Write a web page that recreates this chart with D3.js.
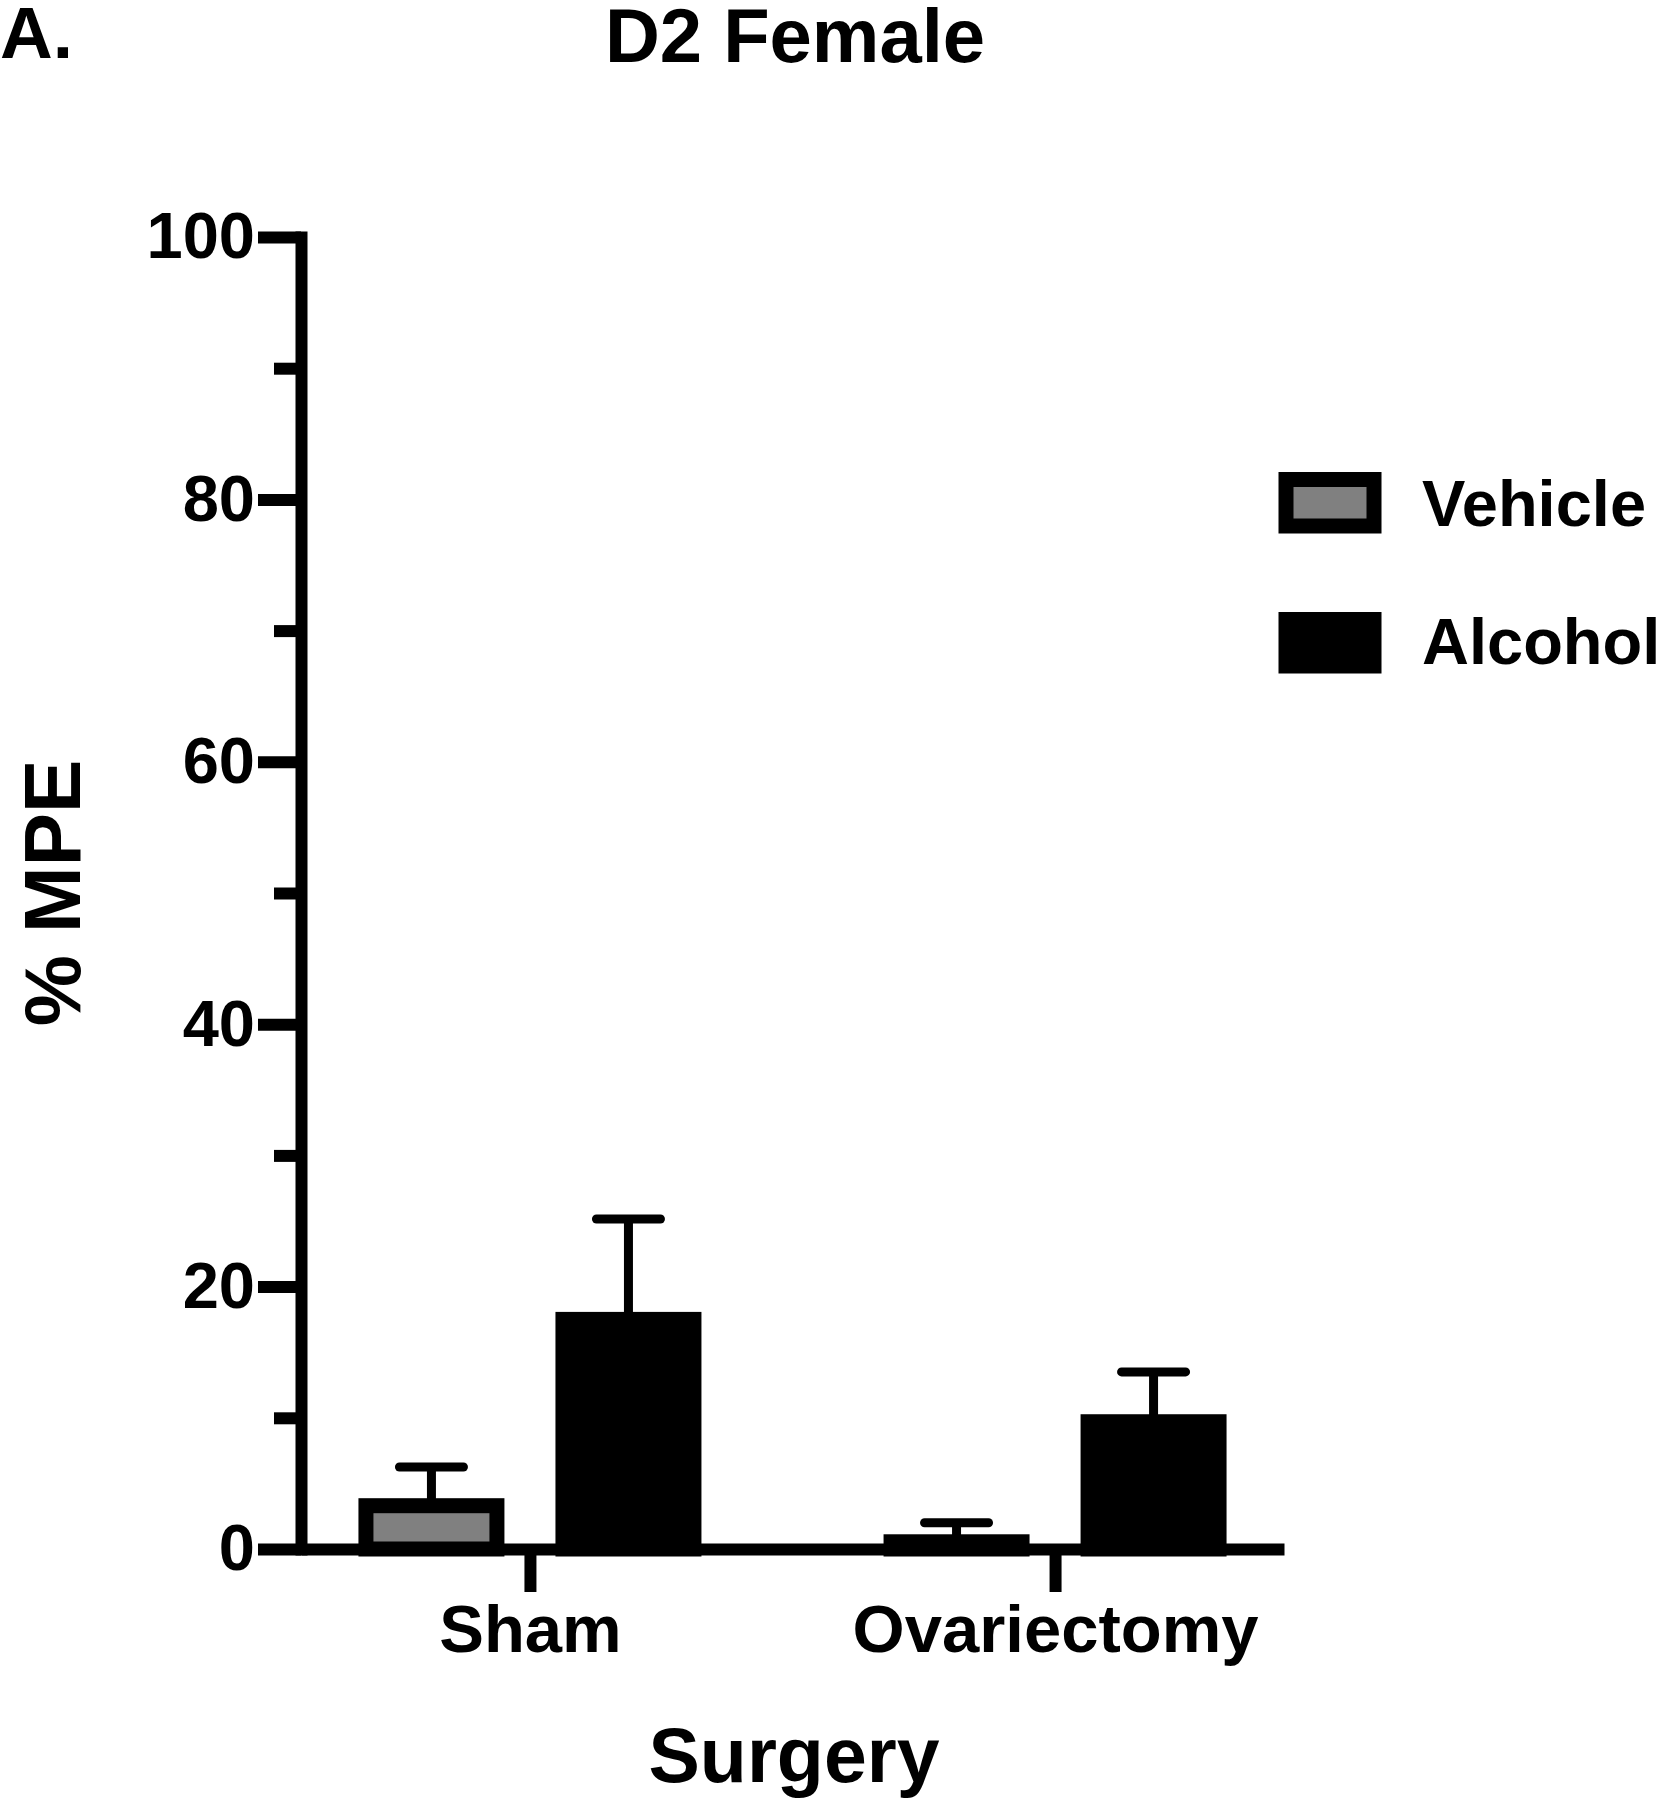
<!DOCTYPE html>
<html>
<head>
<meta charset="utf-8">
<script src="https://cdn.jsdelivr.net/npm/d3@7"></script>
<style>
  html, body { margin: 0; padding: 0; background: #ffffff; }
  svg { display: block; }
  text { font-family: "Liberation Sans", Arial, Helvetica, sans-serif; font-weight: bold; fill: #000; }
</style>
</head>
<body>
<script>
// ---- Data ----
const categories = ["Sham", "Ovariectomy"];
const seriesNames = ["Vehicle", "Alcohol"];
const vehicleMeans = [3.3, 0.55];
const vehicleSEM = [2.95, 1.45];
const alcoholMeans = [17.5, 9.7];
const alcoholSEM = [7.65, 3.8];
const yTicks = [0, 20, 40, 60, 80, 100];
const yMinorTicks = [10, 30, 50, 70, 90];
const seriesColors = ["#808080", "#000000"];

const W = 1659, H = 1801;
const svg = d3.select("body").append("svg").attr("width", W).attr("height", H);

const axisX = 301, baseY = 1549;
const y = d3.scaleLinear().domain([0, 100]).range([baseY, 237]);
const x = d3.scalePoint().domain(categories).range([axisX, 1284]).padding(0.436);
const sub = d3.scaleBand().domain(seriesNames).range([-171.5, 171.5]).paddingInner(0.259).paddingOuter(0);

const rows = [];
categories.forEach((c, i) => {
  rows.push({cat: c, s: "Vehicle", v: vehicleMeans[i], e: vehicleSEM[i]});
  rows.push({cat: c, s: "Alcohol", v: alcoholMeans[i], e: alcoholSEM[i]});
});
const color = d3.scaleOrdinal().domain(seriesNames).range(seriesColors);
const bw = sub.bandwidth();
const BS = 15; // bar border

// error bars (behind bars)
const eg = svg.append("g");
rows.forEach(d => {
  const cx = x(d.cat) + sub(d.s) + bw / 2;
  eg.append("line").attr("x1", cx).attr("x2", cx)
    .attr("y1", y(d.v)).attr("y2", y(d.v + d.e))
    .attr("stroke", "#000").attr("stroke-width", 9);
  eg.append("line").attr("x1", cx - bw / 4 + 4.5).attr("x2", cx + bw / 4 - 4.5)
    .attr("y1", y(d.v + d.e)).attr("y2", y(d.v + d.e))
    .attr("stroke", "#000").attr("stroke-width", 9).attr("stroke-linecap", "round");
});

// bars
svg.append("g").selectAll("rect").data(rows).join("rect")
  .attr("x", d => x(d.cat) + sub(d.s) + BS / 2)
  .attr("width", bw - BS)
  .attr("y", d => y(d.v))
  .attr("height", d => y(0) - y(d.v))
  .attr("fill", d => color(d.s))
  .attr("stroke", "#000")
  .attr("stroke-width", BS);

// y axis minor ticks
const gyMinor = svg.append("g").attr("transform", `translate(${axisX},0)`)
  .call(d3.axisLeft(y).tickValues(yMinorTicks).tickSize(27).tickSizeOuter(0).tickFormat(""));
gyMinor.select(".domain").remove();
gyMinor.selectAll(".tick line").attr("stroke", "#000").attr("stroke-width", 12);

// y axis major
const gy = svg.append("g").attr("transform", `translate(${axisX},0)`)
  .call(d3.axisLeft(y).tickValues(yTicks).tickSize(43).tickSizeOuter(0).tickPadding(3).tickFormat(d3.format("d")));
gy.select(".domain").attr("stroke", "#000").attr("stroke-width", 12).attr("stroke-linecap", "square");
gy.selectAll(".tick line").attr("stroke", "#000").attr("stroke-width", 12);
gy.selectAll(".tick text").attr("font-size", 65).attr("font-family", "Liberation Sans, Arial, sans-serif").attr("font-weight", "bold").attr("fill", "#000");

// x axis
const gx = svg.append("g").attr("transform", `translate(0,${baseY})`)
  .call(d3.axisBottom(x).tickSize(43).tickSizeOuter(0).tickPadding(12));
gx.select(".domain").attr("stroke", "#000").attr("stroke-width", 12);
gx.selectAll(".tick line").attr("stroke", "#000").attr("stroke-width", 12);
gx.selectAll(".tick text").attr("font-size", 67).attr("font-family", "Liberation Sans, Arial, sans-serif").attr("font-weight", "bold").attr("fill", "#000");

// titles
svg.append("text").attr("x", 0).attr("y", 58).attr("font-size", 73).text("A.");
svg.append("text").attr("x", 795).attr("y", 62).attr("font-size", 76).attr("text-anchor", "middle").text("D2 Female");
svg.append("text").attr("x", 794).attr("y", 1782).attr("font-size", 77).attr("text-anchor", "middle").text("Surgery");
svg.append("text").attr("transform", "translate(80,893) rotate(-90)").attr("font-size", 80).attr("text-anchor", "middle").text("% MPE");

// legend
const legY = [479.5, 619.5];
const legTextY = [526, 664];
seriesNames.forEach((s, i) => {
  svg.append("rect").attr("x", 1286).attr("y", legY[i]).attr("width", 88).attr("height", 46.5)
    .attr("fill", color(s)).attr("stroke", "#000").attr("stroke-width", BS);
  svg.append("text").attr("x", 1422).attr("y", legTextY[i]).attr("font-size", 65).text(s);
});
</script>
</body>
</html>
